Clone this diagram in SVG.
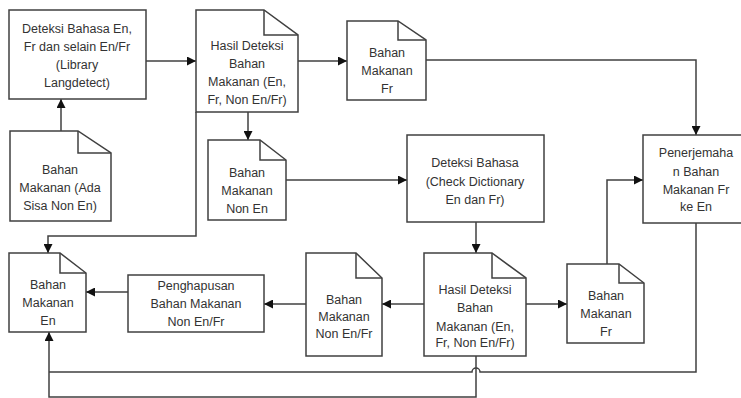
<svg xmlns="http://www.w3.org/2000/svg" width="741" height="398" viewBox="0 0 741 398">
  <style>
    .shape { fill: #ffffff; stroke: #404040; stroke-width: 1.5; }
    .fold { fill: none; stroke: #404040; stroke-width: 1.5; }
    .edge { fill: none; stroke: #404040; stroke-width: 1.5; }
    text { font-family: "Liberation Sans", Arial, sans-serif; font-size: 12.5px; fill: #333333; text-anchor: middle; }
  </style>
  <defs>
    <marker id="arrow" viewBox="0 0 10 10" refX="10" refY="5" markerWidth="9" markerHeight="9" markerUnits="userSpaceOnUse" orient="auto">
      <path d="M0,0 L10,5 L0,10 Z" fill="#111111"/>
    </marker>
  </defs>
  <rect width="741" height="398" fill="#ffffff"/>

  <!-- connectors -->
  <g id="connectors">
    <path class="edge" d="M61,131 V99" marker-end="url(#arrow)"/>
    <path class="edge" d="M146,61 H196" marker-end="url(#arrow)"/>
    <path class="edge" d="M298,61 H347" marker-end="url(#arrow)"/>
    <path class="edge" d="M426,60 H696 V135" marker-end="url(#arrow)"/>
    <path class="edge" d="M248,112 V140" marker-end="url(#arrow)"/>
    <path class="edge" d="M196,112 V236 H48 V253" marker-end="url(#arrow)"/>
    <path class="edge" d="M286,180 H407" marker-end="url(#arrow)"/>
    <path class="edge" d="M476,222 V253" marker-end="url(#arrow)"/>
    <path class="edge" d="M424,304 H382" marker-end="url(#arrow)"/>
    <path class="edge" d="M526,304 H567" marker-end="url(#arrow)"/>
    <path class="edge" d="M306,304 H264" marker-end="url(#arrow)"/>
    <path class="edge" d="M128,292 H86" marker-end="url(#arrow)"/>
    <path class="edge" d="M607,264 V180 H643" marker-end="url(#arrow)"/>
    <path class="edge" d="M696,223 V372 H480 A4,4 0 0 0 472,372 H49"/>
    <path class="edge" d="M476,356 V397 H49 V332" marker-end="url(#arrow)"/>
  </g>

  <!-- process: language detection with langdetect -->
  <g id="deteksi-langdetect">
    <rect class="shape" x="9" y="10" width="137" height="89"/>
    <text x="77" y="33">Deteksi Bahasa En,</text>
    <text x="77" y="51">Fr dan selain En/Fr</text>
    <text x="77" y="69">(Library</text>
    <text x="77" y="87">Langdetect)</text>
  </g>

  <!-- document: input ingredients -->
  <g id="bahan-sisa-non-en">
    <path class="shape" d="M10,131 H78 L111,153 V221 H10 Z"/>
    <path class="fold" d="M78,131 V153 H111"/>
    <text x="60" y="174">Bahan</text>
    <text x="60" y="192">Makanan (Ada</text>
    <text x="60" y="210">Sisa Non En)</text>
  </g>

  <!-- document: first detection result -->
  <g id="hasil-deteksi-1">
    <path class="shape" d="M196,10 H264 L298,35 V112 H196 Z"/>
    <path class="fold" d="M264,10 V35 H298"/>
    <text x="247" y="50">Hasil Deteksi</text>
    <text x="247" y="68">Bahan</text>
    <text x="247" y="86">Makanan (En,</text>
    <text x="247" y="104">Fr, Non En/Fr)</text>
  </g>

  <!-- document: French ingredients -->
  <g id="bahan-fr-1">
    <path class="shape" d="M347,21 H398 L426,40 V100 H347 Z"/>
    <path class="fold" d="M398,21 V40 H426"/>
    <text x="387" y="57">Bahan</text>
    <text x="387" y="75">Makanan</text>
    <text x="387" y="93">Fr</text>
  </g>

  <!-- document: non-English ingredients -->
  <g id="bahan-non-en">
    <path class="shape" d="M208,140 H260 L286,160 V220 H208 Z"/>
    <path class="fold" d="M260,140 V160 H286"/>
    <text x="247" y="177">Bahan</text>
    <text x="247" y="195">Makanan</text>
    <text x="247" y="213">Non En</text>
  </g>

  <!-- process: dictionary check -->
  <g id="deteksi-dictionary">
    <rect class="shape" x="407" y="135" width="137" height="87"/>
    <text x="475" y="167">Deteksi Bahasa</text>
    <text x="475" y="186">(Check Dictionary</text>
    <text x="475" y="204">En dan Fr)</text>
  </g>

  <!-- process: translation -->
  <g id="penerjemahan">
    <rect class="shape" x="643" y="135" width="106" height="88"/>
    <text x="696" y="157">Penerjemaha</text>
    <text x="696" y="176">n Bahan</text>
    <text x="696" y="194">Makanan Fr</text>
    <text x="696" y="211">ke En</text>
  </g>

  <!-- document: English ingredients -->
  <g id="bahan-en">
    <path class="shape" d="M9,253 H60 L86,273 V332 H9 Z"/>
    <path class="fold" d="M60,253 V273 H86"/>
    <text x="48" y="289">Bahan</text>
    <text x="48" y="307">Makanan</text>
    <text x="48" y="325">En</text>
  </g>

  <!-- process: removal -->
  <g id="penghapusan">
    <rect class="shape" x="128" y="275" width="136" height="57"/>
    <text x="196" y="290">Penghapusan</text>
    <text x="196" y="308">Bahan Makanan</text>
    <text x="196" y="326">Non En/Fr</text>
  </g>

  <!-- document: non-English/French ingredients -->
  <g id="bahan-non-en-fr">
    <path class="shape" d="M306,253 H356 L382,278 V356 H306 Z"/>
    <path class="fold" d="M356,253 V278 H382"/>
    <text x="344" y="304">Bahan</text>
    <text x="344" y="321">Makanan</text>
    <text x="344" y="338">Non En/Fr</text>
  </g>

  <!-- document: second detection result -->
  <g id="hasil-deteksi-2">
    <path class="shape" d="M424,253 H492 L526,278 V356 H424 Z"/>
    <path class="fold" d="M492,253 V278 H526"/>
    <text x="475" y="294">Hasil Deteksi</text>
    <text x="475" y="312">Bahan</text>
    <text x="475" y="331">Makanan (En,</text>
    <text x="475" y="347">Fr, Non En/Fr)</text>
  </g>

  <!-- document: French ingredients (second) -->
  <g id="bahan-fr-2">
    <path class="shape" d="M567,264 H619 L644,283 V343 H567 Z"/>
    <path class="fold" d="M619,264 V283 H644"/>
    <text x="606" y="300">Bahan</text>
    <text x="606" y="318">Makanan</text>
    <text x="606" y="336">Fr</text>
  </g>
</svg>
